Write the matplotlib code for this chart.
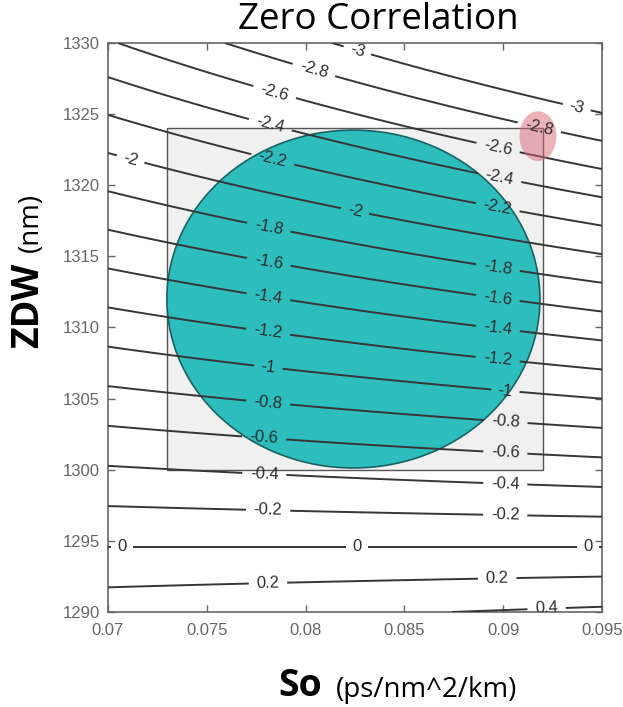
import numpy as np
import matplotlib
matplotlib.use("Agg")
import matplotlib.pyplot as plt
from matplotlib.patches import Rectangle, Ellipse

# datos del grafico
so_range = [0.07, 0.095]
zdw_range = [1290, 1330]
lambda_nm = 1294.6          # longitud de onda donde se evalua la dispersion
niveles = [-3, -2.8, -2.6, -2.4, -2.2, -2, -1.8, -1.6, -1.4, -1.2, -1,
           -0.8, -0.6, -0.4, -0.2, 0, 0.2, 0.4]
x_ticks = [0.07, 0.075, 0.08, 0.085, 0.09, 0.095]
x_ticklabels = ['0.07', '0.075', '0.08', '0.085', '0.09', '0.095']
y_ticks = [1290, 1295, 1300, 1305, 1310, 1315, 1320, 1325, 1330]

# caja de tolerancia y elipse de la distribucion
caja_so = [0.073, 0.092]
caja_zdw = [1300, 1324]
elipse_centro = [0.08242, 1312.0]
elipse_ancho = 0.01888
elipse_alto = 23.75
punto_rojo = [0.09176, 1323.45]

# posiciones de las etiquetas de contorno
etiquetas = [(0.0826, 1329.4), (0.0937, 1325.35), (0.0804, 1328.0), (0.0918, 1323.9),
             (0.0784, 1326.4), (0.0897, 1322.4), (0.0782, 1324.2), (0.0898, 1320.4),
             (0.0783, 1321.6), (0.0897, 1318.3), (0.0711, 1321.6), (0.0825, 1318.2),
             (0.0781, 1316.8), (0.0897, 1313.9), (0.0781, 1314.3), (0.0897, 1311.8),
             (0.0781, 1312.0), (0.0897, 1309.6), (0.0781, 1309.7), (0.0897, 1307.5),
             (0.0781, 1307.0), (0.0901, 1305.4), (0.0781, 1304.6), (0.0901, 1303.1),
             (0.0779, 1302.2), (0.0901, 1301.0), (0.0779, 1299.5), (0.0901, 1298.8),
             (0.0781, 1297.0), (0.0901, 1296.6), (0.0707, 1294.5), (0.0826, 1294.5),
             (0.0943, 1294.5), (0.0781, 1291.8), (0.0897, 1292.1), (0.0922, 1290.1)]

so = np.linspace(so_range[0], so_range[1], 300)
zdw = np.linspace(zdw_range[0], zdw_range[1], 300)
SO, ZDW = np.meshgrid(so, zdw)
D = SO / 4 * (lambda_nm - ZDW**4 / lambda_nm**3)

fig = plt.figure(figsize=(6.23, 7.07), dpi=100)
ax = fig.add_axes([108/623, 1 - 612/707, 494/623, 569/707])

ax.add_patch(Rectangle((caja_so[0], caja_zdw[0]), caja_so[1] - caja_so[0],
                       caja_zdw[1] - caja_zdw[0], facecolor='#f0f0f0',
                       edgecolor='#555555', linewidth=1.0, zorder=1))
ax.add_patch(Ellipse(elipse_centro, elipse_ancho, elipse_alto, facecolor='#2dbdbd',
                     edgecolor='#1a6262', linewidth=1.2, zorder=2))

cs = ax.contour(SO, ZDW, D, levels=niveles, colors='#363636', linewidths=1.4,
                linestyles='solid', zorder=3)
ax.clabel(cs, fmt='%g', fontsize=12, manual=etiquetas, inline=True, inline_spacing=6)
for t in cs.labelTexts:
    t.set_color('#2e2e2e')
    t.set_fontfamily('Liberation Sans')

ax.add_patch(Ellipse(punto_rojo, 0.00187, 3.5, facecolor=(0.85, 0.4, 0.45, 0.5),
                     edgecolor='none', zorder=4))

ax.set_xlim(so_range)
ax.set_ylim(zdw_range)
ax.set_xticks(x_ticks)
ax.set_xticklabels(x_ticklabels)
ax.set_yticks(y_ticks)
ax.tick_params(direction='in', top=True, right=True, length=5, width=1,
               colors='#666666', labelcolor='#666666', labelsize=12)
ax.tick_params(axis='x', pad=8)
ax.tick_params(axis='y', pad=6)
for lab in ax.get_xticklabels() + ax.get_yticklabels():
    lab.set_fontfamily('Liberation Sans')
for s in ax.spines.values():
    s.set_color('#666666')
    s.set_linewidth(1.2)

fig.text(378/623, 1 - 20/707, 'Zero Correlation', fontsize=26.5, family='Open Sans',
         ha='center', va='center')
fig.text(28/623, 1 - 305/707, 'ZDW', fontsize=27, fontweight='bold', family='Open Sans',
         rotation=90, ha='center', va='center')
fig.text(31/623, 1 - 222/707, '(nm)', fontsize=20, family='Open Sans',
         rotation=90, ha='center', va='center')
fig.text(300/623, 1 - 686/707, 'So', fontsize=27, fontweight='bold', family='Open Sans',
         ha='center', va='center')
fig.text(427/623, 1 - 690/707, '(ps/nm^2/km)', fontsize=20, family='Open Sans',
         ha='center', va='center')

plt.savefig('out.png', dpi=100)
